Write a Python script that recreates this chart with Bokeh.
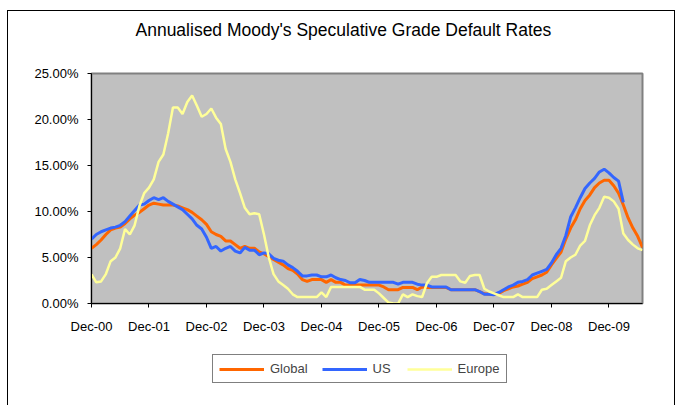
from bokeh.plotting import figure
from bokeh.layouts import column
from bokeh.models import (Range1d, FixedTicker, Legend, LegendItem, ColumnDataSource, Title)
from bokeh.embed import file_html
from bokeh.resources import INLINE

# Monthly annualised default rates (%) from Dec-00 onwards
global_rate = [6.0, 6.4, 6.9, 7.5, 8.0, 8.2, 8.3, 8.7, 9.2, 9.6, 9.9, 10.3,
               10.7, 10.9, 10.8, 10.7, 10.7, 10.7, 10.6, 10.4, 10.2, 9.9, 9.5, 9.1,
               8.6, 7.8, 7.5, 7.3, 6.8, 6.8, 6.4, 6.0, 6.2, 6.0, 6.0, 5.6,
               5.4, 5.1, 4.8, 4.5, 4.2, 3.8, 3.6, 3.2, 2.6, 2.4, 2.6, 2.6,
               2.6, 2.3, 2.6, 2.3, 2.3, 2.0, 2.0, 2.0, 2.0, 2.0, 2.0, 2.0,
               2.0, 1.8, 1.5, 1.5, 1.5, 1.75, 1.75, 1.75, 1.5, 1.8, 1.75, 1.75,
               1.75, 1.75, 1.75, 1.5, 1.5, 1.5, 1.5, 1.5, 1.5, 1.3, 1.05, 1.0,
               1.0, 1.1, 1.4, 1.6, 1.8, 1.9, 2.1, 2.3, 2.7, 2.9, 3.1, 3.4,
               4.2, 4.9, 5.6, 7.0, 8.2, 9.1, 10.3, 11.2, 11.8, 12.6, 13.1, 13.4,
               13.4, 12.8, 12.0, 10.7, 9.3, 8.2, 7.3, 6.1]

us_rate = [7.0, 7.5, 7.8, 8.0, 8.2, 8.3, 8.5, 8.9, 9.5, 10.1, 10.7, 10.8,
           11.2, 11.5, 11.3, 11.5, 11.1, 10.8, 10.5, 10.2, 9.7, 9.2, 8.5, 8.1,
           7.2, 6.0, 6.2, 5.7, 6.0, 6.2, 5.7, 5.5, 6.1, 5.8, 5.8, 5.3,
           5.5, 5.4, 4.9, 4.7, 4.6, 4.2, 3.9, 3.5, 3.0, 3.0, 3.1, 3.1,
           2.9, 2.9, 3.1, 2.8, 2.6, 2.5, 2.25, 2.25, 2.6, 2.5, 2.3, 2.3,
           2.3, 2.3, 2.3, 2.3, 2.1, 2.3, 2.3, 2.3, 2.1, 2.0, 2.0, 1.8,
           1.8, 1.8, 1.8, 1.5, 1.5, 1.5, 1.5, 1.5, 1.5, 1.3, 1.0, 1.0,
           0.95, 1.2, 1.5, 1.8, 2.0, 2.3, 2.4, 2.6, 3.1, 3.3, 3.5, 3.7,
           4.4, 5.3, 6.0, 7.4, 9.4, 10.4, 11.5, 12.5, 13.1, 13.6, 14.3, 14.6,
           14.2, 13.7, 13.3, 11.0]

europe_rate = [3.15, 2.3, 2.4, 3.2, 4.6, 5.0, 6.0, 8.1, 7.5, 8.5, 10.6, 12.0,
               12.6, 13.5, 15.4, 16.2, 18.5, 21.3, 21.3, 20.6, 21.9, 22.6, 21.5, 20.3,
               20.6, 21.2, 20.2, 19.5, 16.8, 15.4, 13.5, 12.0, 10.4, 9.7, 9.8, 9.7,
               7.5, 5.0, 3.2, 2.4, 2.0, 1.6, 1.0, 0.7, 0.7, 0.7, 0.7, 0.7,
               1.2, 0.7, 1.8, 1.8, 1.8, 1.8, 1.8, 1.8, 1.8, 1.5, 1.5, 1.5,
               1.1, 0.6, 0.1, 0.0, 0.0, 1.0, 0.7, 1.0, 0.8, 0.7, 2.2, 2.9,
               2.9, 3.1, 3.1, 3.1, 3.1, 2.4, 2.25, 3.0, 3.1, 3.1, 1.6, 1.3,
               1.1, 0.9, 0.7, 0.7, 0.7, 1.0, 0.7, 0.7, 0.7, 0.7, 1.5, 1.6,
               2.0, 2.4, 2.8, 4.6, 5.0, 5.3, 6.3, 6.8, 8.5, 9.6, 10.4, 11.6,
               11.5, 11.1, 10.3, 7.6, 6.9, 6.4, 6.0, 5.8]

x_tick_labels = ["Dec-00", "Dec-01", "Dec-02", "Dec-03", "Dec-04",
                 "Dec-05", "Dec-06", "Dec-07", "Dec-08", "Dec-09"]
y_ticks = [0, 5, 10, 15, 20, 25]
y_tick_labels = ["0.00%", "5.00%", "10.00%", "15.00%", "20.00%", "25.00%"]
series_names = ["Global", "US", "Europe"]
series_values = [global_rate, us_rate, europe_rate]
series_colors = ["#FF6600", "#3366FF", "#FFFF99"]
series_widths = [3, 3, 2.5]
title_text = "Annualised Moody's Speculative Grade Default Rates"

FONT = "Liberation Sans"

p = figure(width=666, height=329, output_backend="svg", toolbar_location=None,
           x_range=Range1d(0, len(global_rate) - 1), y_range=Range1d(0, 25),
           min_border_left=83, min_border_right=32, min_border_top=62,
           min_border_bottom=37, title=None)

# spacer (closest to the frame) then the real title above it
p.add_layout(Title(text=" ", text_font=FONT, text_font_size="16px", standoff=10), "above")
p.add_layout(Title(text=title_text, align="left", offset=44, text_font=FONT,
                   text_font_size="17.5px", text_font_style="normal",
                   text_color="#000000", standoff=10), "above")

p.background_fill_color = "#C0C0C0"
p.border_fill_color = "#FFFFFF"
p.outline_line_color = "#808080"
p.outline_line_width = 2
p.xgrid.visible = False
p.ygrid.visible = False

for data, color, w in zip(series_values, series_colors, series_widths):
    src = ColumnDataSource(dict(x=list(range(len(data))), y=data))
    p.line("x", "y", source=src, line_color=color, line_width=w)

# x axis
p.xaxis.ticker = FixedTicker(ticks=[12 * i for i in range(len(x_tick_labels))])
p.xaxis.major_label_overrides = {12 * i: lab for i, lab in enumerate(x_tick_labels)}
p.xaxis.minor_tick_line_color = None
p.xaxis.major_tick_in = 0
p.xaxis.major_tick_out = 4
p.xaxis.major_label_standoff = 11
p.xaxis.axis_line_color = "#000000"
p.xaxis.major_tick_line_color = "#000000"
p.xaxis.major_label_text_font = FONT
p.xaxis.major_label_text_font_size = "13px"
p.xaxis.major_label_text_color = "#000000"

# y axis
p.yaxis.ticker = FixedTicker(ticks=y_ticks)
p.yaxis.major_label_overrides = dict(zip(y_ticks, y_tick_labels))
p.yaxis.minor_tick_line_color = None
p.yaxis.major_tick_in = 0
p.yaxis.major_tick_out = 4
p.yaxis.major_label_standoff = 9
p.yaxis.axis_line_color = "#000000"
p.yaxis.major_tick_line_color = "#000000"
p.yaxis.major_label_text_font = FONT
p.yaxis.major_label_text_font_size = "13px"
p.yaxis.major_label_text_color = "#000000"

# legend strip below the chart (its lines lie outside its visible range)
lp = figure(width=666, height=65, output_backend="svg", toolbar_location=None,
            x_range=Range1d(0, len(global_rate) - 1), y_range=Range1d(100, 101),
            x_axis_type=None, y_axis_type=None,
            min_border_left=0, min_border_right=0, min_border_top=0, min_border_bottom=0)
lp.outline_line_color = None
lp.background_fill_color = "#FFFFFF"
lp.border_fill_color = "#FFFFFF"
lp.xgrid.visible = False
lp.ygrid.visible = False

items = []
for name, data, color, w in zip(series_names, series_values, series_colors, series_widths):
    src = ColumnDataSource(dict(x=list(range(len(data))), y=data))
    r = lp.line("x", "y", source=src, line_color=color, line_width=w)
    items.append(LegendItem(label=name, renderers=[r]))

legend = Legend(items=items, orientation="horizontal", location=(121, 22))
legend.label_text_font = FONT
legend.label_text_font_size = "13px"
legend.glyph_width = 45
legend.glyph_height = 14
legend.label_standoff = 6
legend.spacing = 14
legend.padding = 6
legend.margin = 0
legend.border_line_color = "#000000"
legend.border_line_width = 1
legend.background_fill_color = "#FFFFFF"
legend.background_fill_alpha = 1.0
lp.add_layout(legend, "center")

layout = column(p, lp, spacing=0)
layout.styles = {"margin-left": "7px", "margin-top": "10px",
                 "border-left": "1px solid #000", "border-top": "1px solid #000",
                 "border-right": "1px solid #000"}

html = file_html(layout, INLINE)
open("out.html", "w").write(html)
